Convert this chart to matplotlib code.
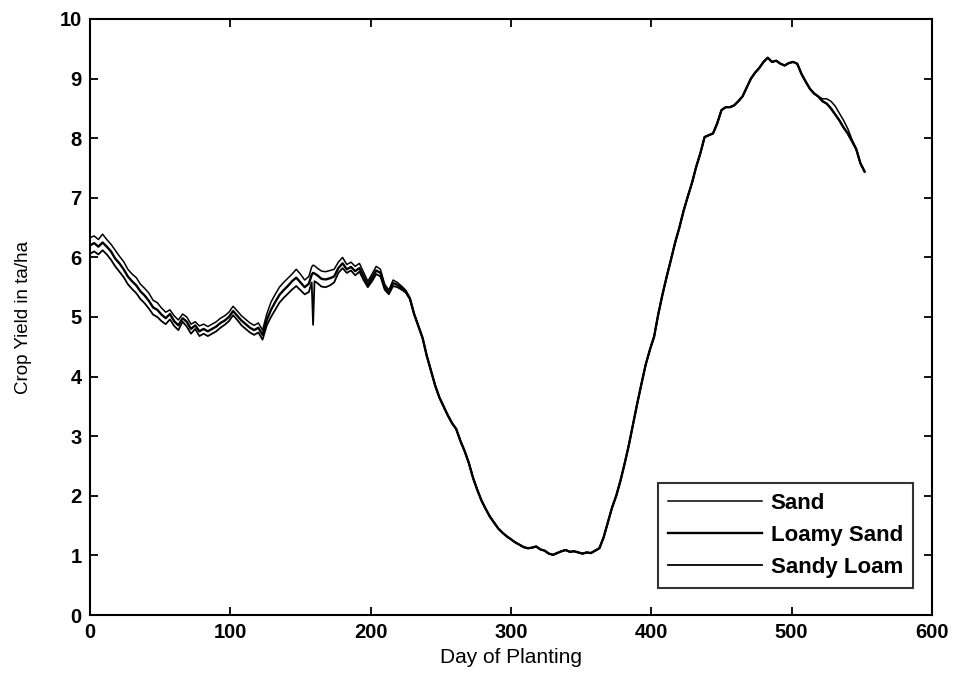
import matplotlib
matplotlib.use("Agg")
import matplotlib.pyplot as plt
import numpy as np

plt.rcParams['font.family'] = ['Liberation Sans', 'DejaVu Sans']

# ---- data ----
days_early = [0, 3, 6, 9, 12, 15, 18, 21, 24, 27, 30, 33, 36, 39, 42, 45, 48, 51, 54, 57,
              60, 63, 66, 69, 72, 75, 78, 81, 84, 87, 90, 93, 96, 99, 102, 105, 108, 111,
              114, 117, 120, 123, 126, 129, 132, 135, 138, 141, 144, 147, 150, 153, 156,
              158, 159, 160, 162, 165, 168, 171, 174, 177, 180, 183, 186, 189, 192, 195,
              198, 201, 204, 207, 210, 213, 216, 219, 222, 225, 228]

sand_early = [6.33, 6.36, 6.30, 6.39, 6.30, 6.22, 6.12, 6.02, 5.93, 5.80, 5.72, 5.66, 5.55,
              5.48, 5.40, 5.28, 5.24, 5.15, 5.08, 5.12, 5.02, 4.95, 5.05, 5.00, 4.88, 4.92,
              4.85, 4.88, 4.84, 4.88, 4.92, 4.98, 5.02, 5.08, 5.18, 5.10, 5.02, 4.96, 4.90,
              4.86, 4.90, 4.78, 5.05, 5.25, 5.38, 5.50, 5.58, 5.65, 5.72, 5.80, 5.72, 5.62,
              5.68, 5.84, 5.87, 5.86, 5.82, 5.77, 5.76, 5.78, 5.80, 5.92, 6.00, 5.88, 5.92,
              5.85, 5.90, 5.75, 5.60, 5.72, 5.85, 5.80, 5.55, 5.45, 5.62, 5.58, 5.52, 5.45,
              5.32]

loamy_sand_early = [6.20, 6.24, 6.18, 6.25, 6.18, 6.10, 5.98, 5.90, 5.80, 5.68, 5.60, 5.53,
                    5.43, 5.36, 5.27, 5.16, 5.12, 5.04, 4.98, 5.05, 4.93, 4.86, 4.98, 4.92,
                    4.80, 4.86, 4.76, 4.80, 4.76, 4.80, 4.84, 4.90, 4.94, 5.00, 5.10, 5.02,
                    4.94, 4.88, 4.82, 4.78, 4.82, 4.70, 4.95, 5.12, 5.25, 5.37, 5.45, 5.52,
                    5.60, 5.66, 5.58, 5.50, 5.56, 5.71, 5.74, 5.73, 5.70, 5.64, 5.63, 5.65,
                    5.68, 5.82, 5.90, 5.80, 5.84, 5.77, 5.82, 5.68, 5.54, 5.66, 5.78, 5.74,
                    5.50, 5.42, 5.57, 5.54, 5.49, 5.43, 5.31]

sandy_loam_early = [6.06, 6.10, 6.05, 6.12, 6.05, 5.96, 5.85, 5.76, 5.67, 5.55, 5.47, 5.40,
                    5.30, 5.23, 5.14, 5.04, 5.00, 4.93, 4.88, 4.96, 4.85, 4.78, 4.92, 4.84,
                    4.72, 4.80, 4.68, 4.72, 4.68, 4.72, 4.76, 4.82, 4.87, 4.93, 5.03, 4.95,
                    4.86, 4.80, 4.74, 4.70, 4.74, 4.62, 4.86, 5.00, 5.12, 5.24, 5.32, 5.39,
                    5.46, 5.52, 5.45, 5.38, 5.42, 5.58, 4.87, 5.60, 5.57, 5.51, 5.50, 5.53,
                    5.58, 5.74, 5.82, 5.74, 5.78, 5.70, 5.76, 5.62, 5.50, 5.60, 5.72, 5.68,
                    5.46, 5.38, 5.52, 5.50, 5.46, 5.41, 5.30]

days_late = [231, 234, 237, 240, 243, 246, 249, 252, 255, 258, 261, 264, 267, 270, 273, 276,
             279, 282, 285, 288, 291, 294, 297, 300, 303, 306, 309, 312, 315, 318, 321, 324,
             327, 330, 333, 336, 339, 342, 345, 348, 351, 354, 357, 360, 363, 366, 369, 372,
             375, 378, 381, 384, 387, 390, 393, 396, 399, 402, 405, 408, 411, 414, 417, 420,
             423, 426, 429, 432, 435, 438, 441, 444, 447, 450, 453, 456, 459, 462, 465, 468,
             471, 474, 477, 480, 483, 486, 489, 492, 495, 498, 501, 504, 507, 510, 513, 516,
             519, 522, 525, 528, 531, 534, 537, 540, 543, 546, 549, 552]

yield_late = [5.05, 4.85, 4.65, 4.35, 4.10, 3.85, 3.65, 3.50, 3.35, 3.22, 3.12, 2.92, 2.75,
              2.55, 2.30, 2.10, 1.92, 1.78, 1.65, 1.55, 1.45, 1.38, 1.32, 1.27, 1.22, 1.18,
              1.14, 1.12, 1.13, 1.15, 1.10, 1.08, 1.03, 1.01, 1.04, 1.07, 1.09, 1.06, 1.07,
              1.05, 1.03, 1.05, 1.04, 1.08, 1.12, 1.30, 1.55, 1.80, 2.00, 2.25, 2.54, 2.85,
              3.20, 3.55, 3.88, 4.20, 4.45, 4.67, 5.05, 5.38, 5.68, 5.96, 6.25, 6.50, 6.78,
              7.02, 7.25, 7.52, 7.75, 8.02, 8.05, 8.08, 8.25, 8.47, 8.52, 8.52, 8.55, 8.62,
              8.70, 8.85, 9.00, 9.10, 9.18, 9.28, 9.35, 9.28, 9.30, 9.25, 9.22, 9.26, 9.28,
              9.25, 9.08, 8.95, 8.83, 8.75, 8.70, 8.62, 8.58, 8.50, 8.40, 8.30, 8.18, 8.08,
              7.95, 7.82, 7.58, 7.44]

# Sand deviates slightly from the others near the end of the season
sand_split_days = [522, 525, 528, 531, 534, 537, 540, 543]
sand_split_vals = [8.66, 8.66, 8.62, 8.54, 8.42, 8.30, 8.16, 7.98]

# ---- assemble series ----
sand_late = dict(zip(days_late, yield_late))
sand_late.update(dict(zip(sand_split_days, sand_split_vals)))

sand_x = days_early + days_late
sand_y = sand_early + [sand_late[d] for d in days_late]
loamy_x = days_early + days_late
loamy_y = loamy_sand_early + yield_late
sloam_x = days_early + days_late
sloam_y = sandy_loam_early + yield_late

fig = plt.figure(figsize=(9.59, 6.78), dpi=100)
ax = fig.add_axes([0.0938, 0.0929, 0.8780, 0.8791])

ax.plot(sand_x, sand_y, color='black', lw=1.1, label='Sand')
ax.plot(loamy_x, loamy_y, color='black', lw=1.7, label='Loamy Sand')
ax.plot(sloam_x, sloam_y, color='black', lw=1.3, label='Sandy Loam')

ax.set_xlim(0, 600)
ax.set_ylim(0, 10)
ax.set_xticks(range(0, 601, 100))
ax.set_yticks(range(0, 11, 1))
ax.tick_params(direction='in', length=6, width=1.3, top=True, right=True,
               labelsize=14.5, pad=6)
for lab in ax.get_xticklabels() + ax.get_yticklabels():
    lab.set_fontweight('bold')
for s in ax.spines.values():
    s.set_linewidth(1.5)

ax.set_xlabel('Day of Planting', fontsize=15, labelpad=4)
ax.set_ylabel('Crop Yield in ta/ha', fontsize=13.5, labelpad=20)

leg = ax.legend(loc='lower right', bbox_to_anchor=(0.9774, 0.0453), borderaxespad=0,
                fontsize=16, frameon=True, fancybox=False, edgecolor='black',
                handlelength=4.2, handletextpad=0.4, labelspacing=0.5,
                borderpad=0.45)
leg.get_frame().set_linewidth(1.5)
for t in leg.get_texts():
    t.set_fontweight('bold')

fig.savefig('out.png', dpi=100, facecolor='white')
